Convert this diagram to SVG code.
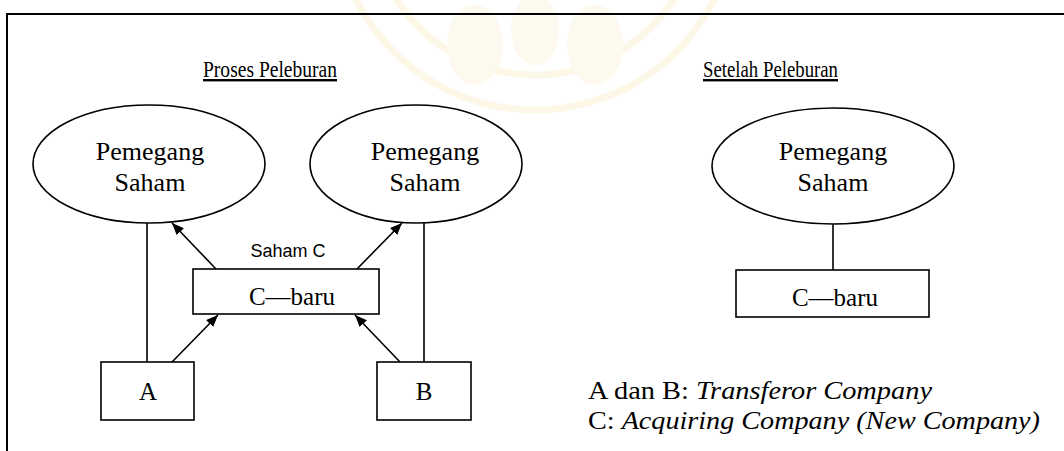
<svg xmlns="http://www.w3.org/2000/svg" width="1064" height="451" viewBox="0 0 1064 451">
  <defs>
    <marker id="arrow" viewBox="0 0 12 10" refX="12" refY="5" markerWidth="12" markerHeight="10" markerUnits="userSpaceOnUse" orient="auto">
      <path d="M0,0 L12,5 L0,10 z" fill="#000"/>
    </marker>
  </defs>
  <style>
    .shape { fill: none; stroke: #000; stroke-width: 1.6; }
    .edge { stroke: #000; stroke-width: 1.6; fill: none; }
    .serif { font-family: "Liberation Serif", "Times New Roman", serif; fill: #000; }
    .node { font-size: 26px; text-anchor: middle; }
    .box { font-size: 25px; text-anchor: middle; }
    .title { font-size: 24px; text-decoration: underline; }
    .legend { font-size: 26px; }
    .label { font-family: "Liberation Sans", Arial, sans-serif; font-size: 18px; text-anchor: middle; fill: #000; }
    .mark { fill: none; stroke: #fcf7e6; stroke-width: 7; }
    .petal { fill: #fdf9ee; }
  </style>
  <rect width="1064" height="451" fill="#fff"/>

  <!-- faint seal printed behind the page -->
  <g id="seal">
    <circle class="mark" cx="535" cy="-90" r="200"/>
    <circle class="mark" cx="535" cy="-90" r="165"/>
    <ellipse class="petal" cx="475" cy="45" rx="28" ry="40"/>
    <ellipse class="petal" cx="595" cy="45" rx="28" ry="40"/>
    <ellipse class="petal" cx="535" cy="30" rx="24" ry="35"/>
  </g>

  <!-- frame -->
  <path d="M7,451 V14 H1064" fill="none" stroke="#000" stroke-width="2"/>

  <!-- section titles -->
  <text class="serif title" x="203" y="77" textLength="134" lengthAdjust="spacingAndGlyphs">Proses Peleburan</text>
  <text class="serif title" x="703" y="77" textLength="135" lengthAdjust="spacingAndGlyphs">Setelah Peleburan</text>

  <!-- connectors -->
  <g id="connectors">
    <line class="edge" x1="147" y1="223" x2="147" y2="362"/>
    <line class="edge" x1="424" y1="223" x2="424" y2="362"/>
    <line class="edge" x1="216" y1="269" x2="172" y2="223" marker-end="url(#arrow)"/>
    <line class="edge" x1="357" y1="269" x2="402" y2="223" marker-end="url(#arrow)"/>
    <line class="edge" x1="172" y1="362" x2="218" y2="315" marker-end="url(#arrow)"/>
    <line class="edge" x1="400" y1="362" x2="355" y2="315" marker-end="url(#arrow)"/>
    <line class="edge" x1="833" y1="224" x2="833" y2="270"/>
    <text class="label" x="288" y="257">Saham C</text>
  </g>

  <!-- process: shareholders -->
  <g id="pemegang-a">
    <ellipse class="shape" cx="149" cy="164" rx="116" ry="59"/>
    <text class="serif node" x="150" y="160">Pemegang</text>
    <text class="serif node" x="150" y="191">Saham</text>
  </g>
  <g id="pemegang-b">
    <ellipse class="shape" cx="416" cy="164" rx="106" ry="59"/>
    <text class="serif node" x="425" y="160">Pemegang</text>
    <text class="serif node" x="425" y="191">Saham</text>
  </g>

  <!-- process: companies -->
  <g id="c-baru">
    <rect class="shape" x="193" y="269" width="186" height="45"/>
    <text class="serif box" x="292" y="305">C—baru</text>
  </g>
  <g id="company-a">
    <rect class="shape" x="101" y="362" width="93" height="58"/>
    <text class="serif box" x="148" y="400">A</text>
  </g>
  <g id="company-b">
    <rect class="shape" x="377" y="362" width="94" height="58"/>
    <text class="serif box" x="424" y="400">B</text>
  </g>

  <!-- after the merger -->
  <g id="pemegang-c">
    <ellipse class="shape" cx="833" cy="166" rx="121" ry="58"/>
    <text class="serif node" x="833" y="160">Pemegang</text>
    <text class="serif node" x="833" y="191">Saham</text>
  </g>
  <g id="c-baru-after">
    <rect class="shape" x="736" y="270" width="193" height="47"/>
    <text class="serif box" x="835" y="306">C—baru</text>
  </g>

  <!-- legend -->
  <g id="legend">
    <text class="serif legend" x="588" y="399" textLength="344" lengthAdjust="spacingAndGlyphs">A dan B: <tspan font-style="italic">Transferor Company</tspan></text>
    <text class="serif legend" x="588" y="429" textLength="452" lengthAdjust="spacingAndGlyphs">C: <tspan font-style="italic">Acquiring Company (New Company)</tspan></text>
  </g>
</svg>
